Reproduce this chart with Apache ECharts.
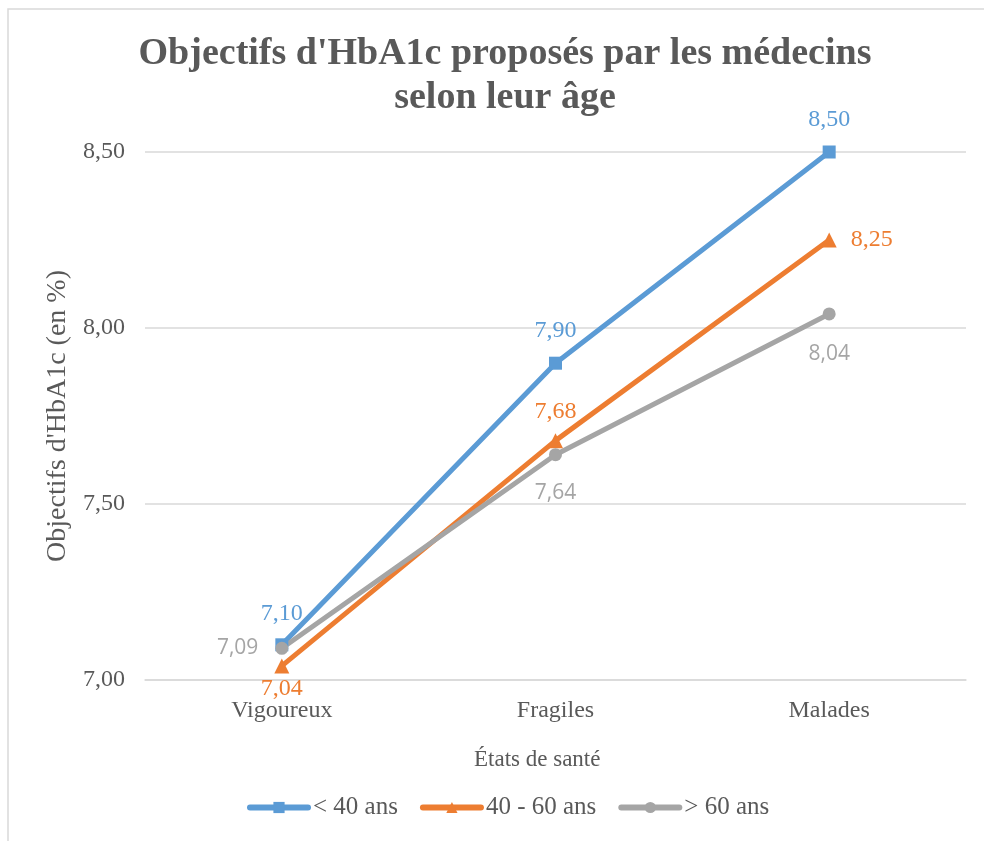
<!DOCTYPE html>
<html><head><meta charset="utf-8">
<script src="https://cdn.jsdelivr.net/npm/echarts@6/dist/echarts.min.js"></script>
<style>html,body{margin:0;padding:0;background:#fff}#c{width:984px;height:841px}</style>
</head><body><div id="c"></div>
<script>
var categories = ['Vigoureux', 'Fragiles', 'Malades'];
var seriesNames = ['< 40 ans', '40 - 60 ans', '> 60 ans'];
var under40 = [7.10, 7.90, 8.50];
var from40to60 = [7.04, 7.68, 8.25];
var over60 = [7.09, 7.64, 8.04];
var yTicks = [7.00, 7.50, 8.00, 8.50];

var fmt = function (v) { return Number(v).toFixed(2).replace('.', ','); };
var serif = '"Liberation Serif", "Times New Roman", serif';
var sans = '"Open Sans", "Noto Sans", sans-serif';

function mkSeries(name, data, color, symbol, symbolSize, positions, dists, font, fsize) {
  return {
    name: name, type: 'line', data: data.map(function (v, i) {
      return { value: v, label: { position: positions[i], distance: dists[i] } };
    }),
    symbol: symbol, symbolSize: symbolSize,
    itemStyle: { color: color },
    lineStyle: { color: color, width: 5 },
    label: { show: true, formatter: function (p) { return fmt(p.value); },
      color: color, fontFamily: font, fontSize: fsize },
    z: 3
  };
}

var chart = echarts.init(document.getElementById('c'));
chart.setOption({
  animation: false,
  title: {
    text: "Objectifs d'HbA1c proposés par les médecins\nselon leur âge",
    left: 500, top: 27, textAlign: 'center',
    textStyle: { fontFamily: serif, fontWeight: 'bold', fontSize: 38, color: '#595959', lineHeight: 44 }
  },
  graphic: [
    { type: 'rect', shape: { x: 8, y: 9, width: 1000, height: 900 },
      style: { fill: 'none', stroke: '#d9d9d9', lineWidth: 1.5 }, z: -1 },
    { type: 'text', left: 474, top: 748,
      style: { text: 'États de santé', fontFamily: serif, fontSize: 23, fill: '#595959' } }
  ],
  legend: {
    top: 790, left: 242, itemWidth: 58, itemHeight: 14, itemGap: 22,
    textStyle: { fontFamily: serif, fontSize: 25, color: '#595959' },
    lineStyle: { width: 6, cap: 'round' },
    data: seriesNames
  },
  grid: { left: 145, right: 18, top: 152, bottom: 161 },
  xAxis: {
    type: 'category', data: categories, boundaryGap: true,
    axisLine: { show: true, lineStyle: { color: '#d9d9d9', width: 1.5 } },
    axisTick: { show: false },
    axisLabel: { fontFamily: serif, fontSize: 24, color: '#595959', margin: 19 }
  },
  yAxis: {
    type: 'value', min: yTicks[0], max: yTicks[yTicks.length - 1], interval: 0.5,
    name: "Objectifs d'HbA1c (en %)", nameLocation: 'middle', nameGap: 73,
    nameTextStyle: { fontFamily: serif, fontSize: 28, color: '#595959' },
    axisLine: { show: false }, axisTick: { show: false },
    axisLabel: { formatter: fmt, fontFamily: serif, fontSize: 24, color: '#595959', margin: 20 },
    splitLine: { lineStyle: { color: '#d9d9d9', width: 1.5 } }
  },
  series: [
    mkSeries(seriesNames[0], under40, '#5B9BD5', 'rect', 13, ['top', 'top', 'top'], [13, 14, 14], serif, 24),
    mkSeries(seriesNames[1], from40to60, '#ED7D31', 'triangle', 15, ['bottom', 'top', 'right'], [3, 9, 14], serif, 24),
    mkSeries(seriesNames[2], over60, '#A5A5A5', 'circle', 13, ['left', 'bottom', 'bottom'], [17, 21, 23], sans, 21)
  ]
});
</script></body></html>
